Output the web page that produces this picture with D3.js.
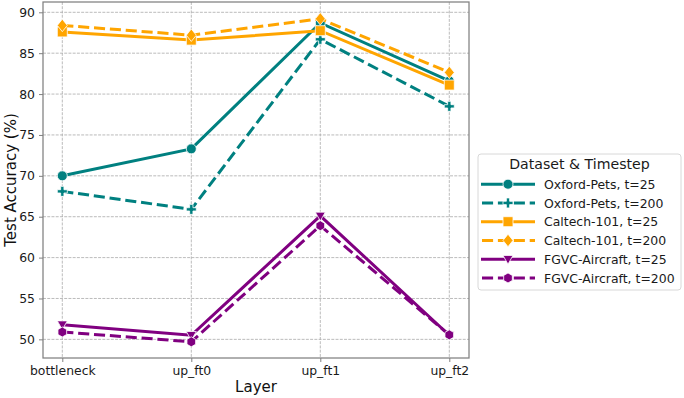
<!DOCTYPE html>
<html><head><meta charset="utf-8">
<script src="https://cdn.jsdelivr.net/npm/d3@7"></script>
<style>body{margin:0;background:#fff}svg{display:block;font-family:"DejaVu Sans",sans-serif}</style>
</head><body><svg id="c" width="684" height="398"></svg>
<script>
const layers = ["bottleneck","up_ft0","up_ft1","up_ft2"];
const oxford25 = [70.0, 73.3, 88.7, 81.6];
const oxford200 = [68.1, 65.9, 86.7, 78.5];
const caltech25 = [87.6, 86.6, 87.75, 81.1];
const caltech200 = [88.4, 87.2, 89.2, 82.65];
const fgvc25 = [51.8, 50.5, 65.1, 50.5];
const fgvc200 = [50.9, 49.7, 63.9, 50.55];
const yTicks = [50,55,60,65,70,75,80,85,90];
const seriesNames = ["Oxford-Pets, t=25","Oxford-Pets, t=200","Caltech-101, t=25","Caltech-101, t=200","FGVC-Aircraft, t=25","FGVC-Aircraft, t=200"];
const seriesColors = ["#008080","#008080","#FFA500","#FFA500","#800080","#800080"];
const seriesDashed = [false,true,false,true,false,true];
const seriesMarkers = ["circle","plus","square","diamond","tri","hex"];
const seriesValues = [oxford25,oxford200,caltech25,caltech200,fgvc25,fgvc200];

const svg = d3.select("#c");
const L=43, R=469, T=2, B=358;
const x = d3.scalePoint().domain(layers).range([62.3,449.3]);
const y = d3.scaleLinear().domain([47.72,91.26]).range([B,T]);

// grid
const g = svg.append("g");
g.selectAll(".gy").data(yTicks).join("line")
 .attr("x1",L).attr("x2",R).attr("y1",d=>y(d)).attr("y2",d=>y(d))
 .attr("stroke","#aaaaaa").attr("stroke-width",0.8).attr("stroke-dasharray","2.96,1.28");
g.selectAll(".gx").data(layers).join("line")
 .attr("x1",d=>x(d)).attr("x2",d=>x(d)).attr("y1",T).attr("y2",B)
 .attr("stroke","#aaaaaa").attr("stroke-width",0.8).attr("stroke-dasharray","2.96,1.28");

function markerPath(type, s){
  const r = s/2;
  switch(type){
    case "circle": return d3.symbol(d3.symbolCircle, Math.PI*r*r)();
    case "square": return `M${-r},${-r}H${r}V${r}H${-r}Z`;
    case "diamond": { const q=r*1.25; return `M0,${-q}L${q*0.8},0L0,${q}L${-q*0.8},0Z`; }
    case "tri": return `M${-r},${-r*0.75}L${r},${-r*0.75}L0,${r*1.0}Z`;
    case "hex": { let p=[]; for(let i=0;i<6;i++){const a=Math.PI/3*i+Math.PI/2; p.push([r*Math.cos(a),r*Math.sin(a)]);} return "M"+p.map(d=>d.join(",")).join("L")+"Z"; }
    case "plus": { const a=r, w=r*0.33; return `M${-w},${-a}H${w}V${-w}H${a}V${w}H${w}V${a}H${-w}V${w}H${-a}V${-w}H${-w}Z`; }
  }
}

const line = d3.line().x((d,i)=>x(layers[i])).y(d=>y(d));
const plot = svg.append("g");
seriesValues.forEach((vals,k)=>{
  plot.append("path").datum(vals).attr("d",line).attr("fill","none")
   .attr("stroke",seriesColors[k]).attr("stroke-width",3)
   .attr("stroke-dasharray",seriesDashed[k]?"11.1,4.8":null);
  plot.selectAll(null).data(vals).join("path")
   .attr("transform",(d,i)=>`translate(${x(layers[i])},${y(d)})`)
   .attr("d",markerPath(seriesMarkers[k],10))
   .attr("fill",seriesColors[k]).attr("stroke","#fff").attr("stroke-width",0.8);
});

// spines
const spine="#808080";
svg.append("rect").attr("x",L).attr("y",T).attr("width",R-L).attr("height",B-T)
  .attr("fill","none").attr("stroke",spine).attr("stroke-width",1.25);

// axes
const ax = svg.append("g").attr("transform",`translate(0,${B})`)
  .call(d3.axisBottom(x).tickSize(4).tickPadding(4));
ax.select(".domain").remove();
ax.selectAll("line").attr("stroke",spine);
ax.selectAll("text").attr("font-size",12.4).attr("fill","#1a1a1a").attr("font-family","DejaVu Sans");
const ay = svg.append("g").attr("transform",`translate(${L},0)`)
  .call(d3.axisLeft(y).tickValues(yTicks).tickSize(4).tickPadding(4));
ay.select(".domain").remove();
ay.selectAll("line").attr("stroke",spine);
ay.selectAll("text").attr("font-size",12.4).attr("fill","#1a1a1a").attr("font-family","DejaVu Sans");

svg.append("text").attr("x",(L+R)/2).attr("y",392).attr("text-anchor","middle")
  .attr("font-size",15).attr("fill","#111").text("Layer");
svg.append("text").attr("transform",`translate(16,${(T+B)/2}) rotate(-90)`).attr("text-anchor","middle")
  .attr("font-size",15).attr("fill","#111").text("Test Accuracy (%)");

// legend
function fitSize(sel, target){
  sel.attr("font-size",10);
  const w = sel.node().getComputedTextLength();
  return w>0 ? 10*target/w : 12.5;
}
const lg = svg.append("g");
lg.append("rect").attr("x",478).attr("y",154).attr("width",203).attr("height",136).attr("rx",3)
  .attr("fill","#fff").attr("stroke","#d8d8d8").attr("stroke-width",1);
const title = lg.append("text").attr("x",579.5).attr("y",169).attr("text-anchor","middle")
  .attr("fill","#1a1a1a").text("Dataset & Timestep");
title.attr("font-size", fitSize(title,140.7));
const probe = lg.append("text").text(seriesNames[0]);
const entrySize = fitSize(probe,111.7);
probe.remove();
seriesNames.forEach((n,k)=>{
  const cy = 184.2 + k*18.75;
  lg.append("line").attr("x1",481).attr("x2",535).attr("y1",cy).attr("y2",cy)
    .attr("stroke",seriesColors[k]).attr("stroke-width",3)
    .attr("stroke-dasharray",seriesDashed[k]?"11.1,4.8":null)
    .attr("stroke-dashoffset",seriesDashed[k]?-1:null);
  lg.append("path").attr("transform",`translate(508,${cy})`).attr("d",markerPath(seriesMarkers[k],10))
    .attr("fill",seriesColors[k]).attr("stroke","#fff").attr("stroke-width",0.8);
  lg.append("text").attr("x",544).attr("y",cy+4.6).attr("font-size",entrySize).attr("fill","#1a1a1a").text(n);
});
</script></body></html>
